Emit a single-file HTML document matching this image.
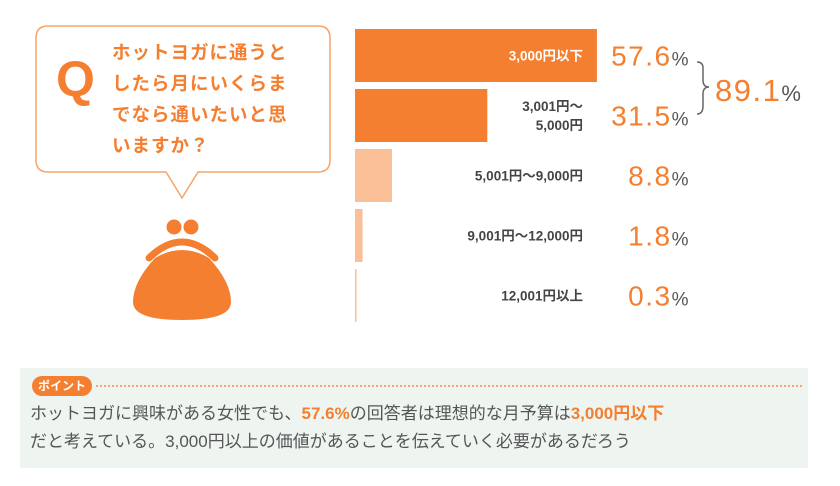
<!DOCTYPE html>
<html><head><meta charset="utf-8"><style>
body{margin:0;width:840px;height:486px;background:#fff;position:relative;overflow:hidden;font-family:"Liberation Sans","Noto Sans CJK JP",sans-serif}
.abs{position:absolute}
</style></head><body>
<svg class="abs" style="left:0;top:0" width="840" height="486">
  <g>
    <path d="M48 26 H318 Q330 26 330 38 V160 Q330 172 318 172 H198 L182 198 L166 172 H48 Q36 172 36 160 V38 Q36 26 48 26 Z" fill="#fff" stroke="#f5a36a" stroke-width="1.5"/>
    <text x="56" y="96" font-size="50" font-weight="bold" fill="#f47f30" transform="scale(1,1)">Q</text>
    <g font-size="18.5" font-weight="bold" fill="#f47f30" letter-spacing="1">
      <text x="112" y="59">ホットヨガに通うと</text>
      <text x="112" y="90">したら月にいくらま</text>
      <text x="112" y="121">でなら通いたいと思</text>
      <text x="112" y="152">いますか？</text>
    </g>
  </g>
  <g fill="#f47f30">
    <circle cx="174" cy="227" r="7.5"/><circle cx="191" cy="227" r="7.5"/>
    <path d="M149 258 Q182 226 215 258" fill="none" stroke="#f47f30" stroke-width="7" stroke-linecap="round"/>
    <path d="M155 258 Q182 242 209 258 Q231 282 231 302 Q231 320 182 320 Q133 320 133 302 Q133 282 155 258Z"/>
  </g>
  <g id="bars"></g>
  <g>
    <path d="M697 62 Q703 62 703 68 V80 Q703 87 709 87 Q703 87 703 94 V106 Q703 114 697 114" fill="none" stroke="#666" stroke-width="1.5"/>
    <text x="715" y="101" font-size="31" fill="#f47f30" letter-spacing="1.5">89.1<tspan font-size="22" fill="#555">%</tspan></text>
  </g>
</svg>
<div class="abs" style="left:20px;top:368px;width:788px;height:100px;background:#eef5f1"></div>
<div class="abs" style="left:32px;top:376px;width:60px;height:20px;border-radius:10px;background:#f47f30;color:#fff;font-size:12px;font-weight:bold;text-align:center;line-height:20px">ポイント</div>
<div class="abs" style="left:96px;top:385px;width:706px;border-top:2px dotted #f5a36a"></div>
<div class="abs" style="left:30px;top:400px;font-size:17px;line-height:28px;color:#555;white-space:nowrap">ホットヨガに興味がある女性でも、<b style="color:#f47f30">57.6%</b>の回答者は理想的な月予算は<b style="color:#f47f30">3,000円以下</b><br>だと考えている。3,000円以上の価値があることを伝えていく必要があるだろう</div>
<script>
const categories=["3,000円以下","3,001円〜|5,000円","5,001円〜9,000円","9,001円〜12,000円","12,001円以上"];
const values=[57.6,31.5,8.8,1.8,0.3];
const valueLabels=["57.6","31.5","8.8","1.8","0.3"];
const NS="http://www.w3.org/2000/svg";
const g=document.getElementById('bars');
const x0=355,scale=4.2,y0=29,step=60,bh=53;
const xs=v=>v*scale;
function mk(t,a){const e=document.createElementNS(NS,t);for(const k in a)e.setAttribute(k,a[k]);return e;}
values.forEach((v,i)=>{
  const y=y0+i*step;
  const r=mk('rect',{x:x0,y:y,width:Math.max(xs(v),1.5),height:bh,fill:i<2?'#f47f30':'#fbbf98'});
  
  
  g.appendChild(r);
  const lines=categories[i].split('|');
  lines.forEach((l,j)=>{
    const t=mk('text',{x:583,y:y+bh/2+5+(lines.length>1?(j-0.5)*19:0),'text-anchor':'end','font-size':'13.5','font-weight':'bold',fill:i===0?'#fff':'#444'});
    t.textContent=l;
    
    
    g.appendChild(t);
  });
  const p=mk('text',{x:690,y:y+bh/2+10,'text-anchor':'end','font-size':'28',fill:'#f47f30','letter-spacing':'1.5'});
  p.innerHTML=valueLabels[i]+'<tspan font-size="19" fill="#555">%</tspan>';
  
  
  g.appendChild(p);
});
</script>
</body></html>
